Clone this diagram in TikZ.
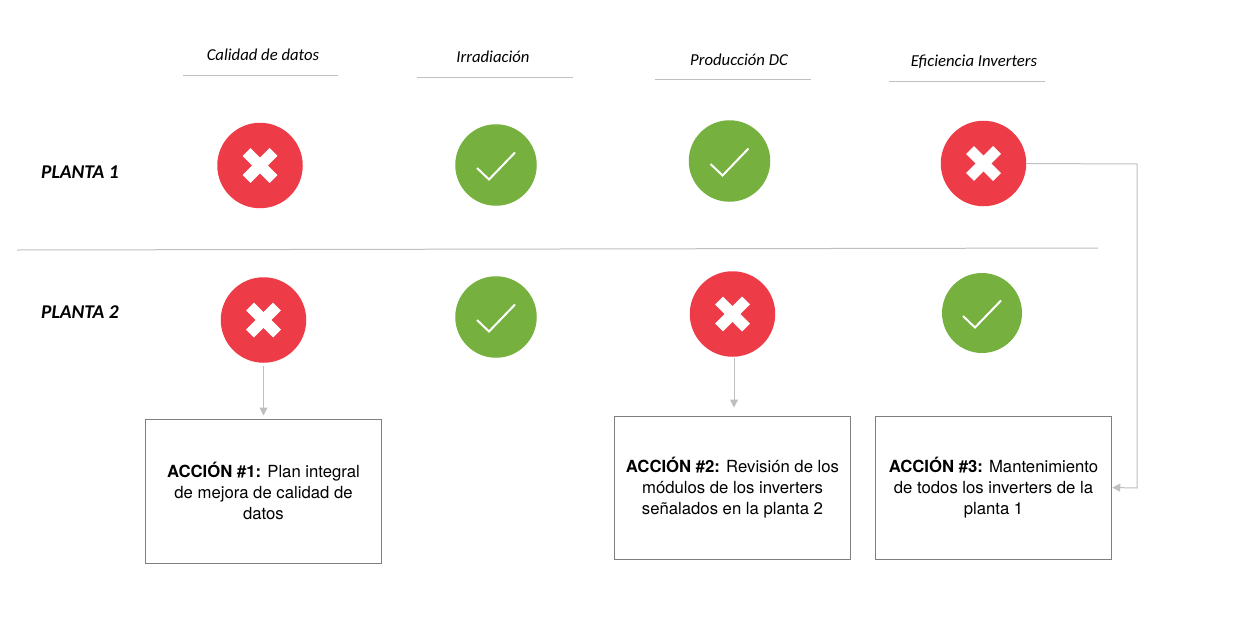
\documentclass[tikz,border=0pt]{standalone}
\usepackage{fontspec}
\setmainfont{TeX Gyre Heros}
\newfontfamily\hdfont{Carlito}
\newfontfamily\boxfont{TeX Gyre Heros}
\usetikzlibrary{arrows.meta}
\definecolor{redc}{HTML}{EE3B48}
\definecolor{greenc}{HTML}{76B13F}
\definecolor{linec}{HTML}{BFBFBF}
\definecolor{boxc}{HTML}{7F7F7F}
\tikzset{
 x=1pt,y=-1pt,
 baddot/.style={circle,fill=redc,inner sep=0pt,minimum size=#1,
   path picture={\draw[white,line width=11pt] (path picture bounding box.center)++(-13.5pt,-13.5pt)--++(27pt,27pt);
                 \draw[white,line width=11pt] (path picture bounding box.center)++(-13.5pt,13.5pt)--++(27pt,-27pt);}},
 baddot/.default=85.5pt,
 gooddot/.style={circle,fill=greenc,inner sep=0pt,minimum size=#1,
   path picture={\draw[white,line width=2pt,miter limit=10] (path picture bounding box.center)++(-19pt,-3pt)--++(12pt,-11.5pt)--++(26pt,27pt);}},
 gooddot/.default=81.5pt,
 head/.style={font=\hdfont\itshape\fontsize{16.7}{18}\selectfont,anchor=center,inner sep=0pt},
 rowlab/.style={font=\hdfont\bfseries\itshape\fontsize{19.5}{22}\selectfont,anchor=center,inner sep=0pt},
 hline/.style={draw=linec,line width=1pt},
 actbox/.style={draw=boxc,line width=1pt,fill=white,minimum width=236.5pt,minimum height=#1,inner sep=0pt,
   align=center,font=\boxfont\fontsize{16.7}{20.7}\selectfont},
 conn/.style={draw=linec,line width=1pt,-{Triangle[length=8pt,width=8pt,fill=linec]}},
}
\begin{document}
\begin{tikzpicture}
\useasboundingbox (0,0) rectangle (1233,624);
\node[head] (h1) at (263,54.5) {Calidad de datos};
\node[head] (h2) at (493,56.5) {Irradiación};
\node[head] (h3) at (739,59.5) {Producción DC};
\node[head] (h4) at (974,61.5) {Eficiencia Inverters};
\coordinate (l1a) at (183,75); \coordinate (l1b) at (338,75);
\coordinate (l2a) at (417,77); \coordinate (l2b) at (573,77);
\coordinate (l3a) at (655,79); \coordinate (l3b) at (811,79);
\coordinate (l4a) at (889,81); \coordinate (l4b) at (1045,81);
\draw[hline] (l1a)--(l1b); \draw[hline] (l2a)--(l2b); \draw[hline] (l3a)--(l3b); \draw[hline] (l4a)--(l4b);
\node[rowlab] (p1) at (80,172) {PLANTA 1};
\node[rowlab] (p2) at (80,312) {PLANTA 2};
\coordinate (da) at (17,250); \coordinate (db) at (1098,248);
\draw[hline] (da)--(db);
\node[baddot] (a1) at (260,165.5) {};
\node[gooddot] (a2) at (496,165) {};
\node[gooddot] (a3) at (729.5,161) {};
\node[baddot] (a4) at (983.5,163.5) {};
\node[baddot] (b1) at (263.5,320) {};
\node[gooddot] (b2) at (496,317) {};
\node[baddot] (b3) at (732.5,314) {};
\node[gooddot=80pt] (b4) at (982,313) {};
\node[actbox=144pt] (x1) at (263.5,491) {\textbf{ACCIÓN \#1:} Plan integral\\de mejora de calidad de\\datos};
\node[actbox=143pt] (x2) at (732.5,487.5) {\textbf{ACCIÓN \#2:} Revisión de los\\módulos de los inverters\\señalados en la planta 2};
\node[actbox=143pt] (x3) at (993.5,487.5) {\textbf{ACCIÓN \#3:} Mantenimiento\\de todos los inverters de la\\planta 1};
\draw[conn,shorten <=3pt,shorten >=3pt] (b1.south)--(x1.north);
\draw[conn,shorten <=1pt,shorten >=8pt] ([xshift=1.5pt]b3.south)--([xshift=1.5pt]x2.north);
\coordinate (t1) at (1137,164);
\coordinate (t2) at (1137,488);
\draw[conn] (a4.east)--(t1)--(t2)--(x3.east);
\end{tikzpicture}
\end{document}
